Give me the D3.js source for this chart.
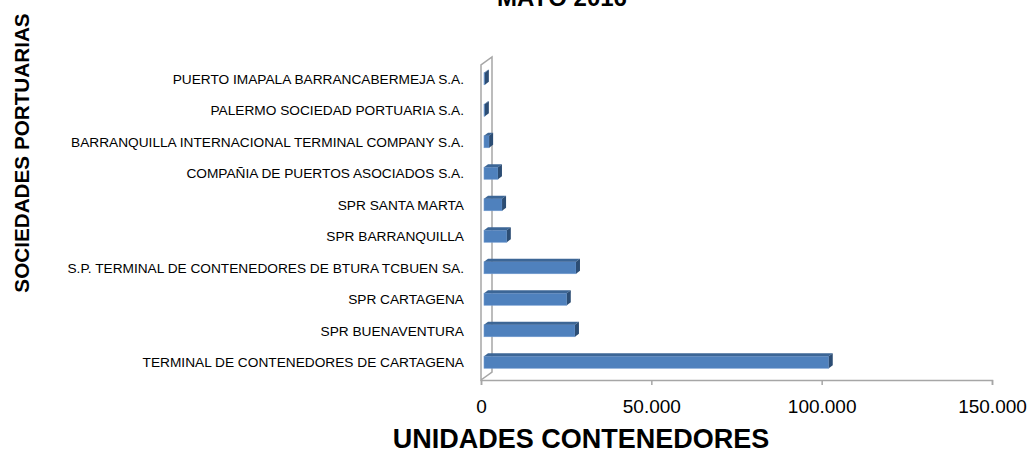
<!DOCTYPE html>
<html>
<head>
<meta charset="utf-8">
<script src="https://cdn.jsdelivr.net/npm/d3@7"></script>
<style>
  body { margin: 0; background: #fff; }
  svg { font-family: "Liberation Sans", Arial, sans-serif; }
</style>
</head>
<body>
<div id="chart"></div>
<script>
// categories listed bottom to top
const categories = [
  "TERMINAL DE CONTENEDORES DE CARTAGENA",
  "SPR BUENAVENTURA",
  "SPR CARTAGENA",
  "S.P. TERMINAL DE CONTENEDORES DE BTURA TCBUEN SA.",
  "SPR BARRANQUILLA",
  "SPR SANTA MARTA",
  "COMPAÑIA DE PUERTOS ASOCIADOS S.A.",
  "BARRANQUILLA INTERNACIONAL TERMINAL COMPANY S.A.",
  "PALERMO SOCIEDAD PORTUARIA S.A.",
  "PUERTO IMAPALA BARRANCABERMEJA S.A."
]
const values = [101200, 26700, 24300, 27000, 6700, 5300, 4100, 1500, 250, 250]
const xTicks = [0, 50000, 100000, 150000]

const W = 1031, H = 459
const svg = d3.select("#chart")
  .append("svg")
    .attr("width", W)
    .attr("height", H)

// plot frame (front plane)
const plotLeft = 481, plotRight = 992, plotBottom = 380, plotTop = 65
// depth of the 3d wall
const dx = 11, dy = -8

const x = d3.scaleLinear()
  .domain([0, 150000])
  .range([plotLeft, plotRight])

const y = d3.scaleBand()
  .domain(categories)
  .range([plotBottom, plotTop])

// side wall
svg.append("polygon")
  .attr("points", [[plotLeft, plotBottom], [plotLeft + dx, plotBottom + dy], [plotLeft + dx, plotTop + dy], [plotLeft, plotTop]].join(" "))
  .attr("fill", "#fff")
  .attr("stroke", "#a6a6a6")
  .attr("stroke-width", 1.5)

// x axis on the floor
const xAxis = svg.append("g")
  .attr("transform", `translate(0, ${plotBottom})`)
  .call(d3.axisBottom(x)
    .tickValues(xTicks)
    .tickSize(5)
    .tickPadding(15)
    .tickFormat(d => d3.format(",")(d).replace(/,/g, ".")))
xAxis.select(".domain").attr("stroke", "#a6a6a6").attr("stroke-width", 1.5)
xAxis.selectAll(".tick line").attr("stroke", "#a6a6a6").attr("stroke-width", 1.5)
xAxis.selectAll(".tick text")
  .attr("fill", "#000")
  .style("font-size", "19px")
  .style("font-family", "Liberation Sans, Arial, sans-serif")

// bars
const faceH = 12
const bx = 3, by = -2      // front face depth offset
const bdx = 4, bdy = -3    // bar depth

const bars = svg.append("g")
  .selectAll("g")
  .data(categories.map((c, i) => ({ cat: c, value: values[i] })))
  .join("g")

bars.each(function(d) {
  const g = d3.select(this)
  const cy = y(d.cat) + y.bandwidth() / 2
  const x0 = x(0) + bx, x1 = x(d.value) + bx
  const yt = cy - faceH / 2 + by, yb = cy + faceH / 2 + by
  // front
  g.append("rect")
    .attr("x", x0).attr("y", yt)
    .attr("width", Math.max(0, x1 - x0)).attr("height", faceH)
    .attr("fill", "#4f81bd")
    .attr("stroke", "#6f9ad0").attr("stroke-width", 0.6)
  // top
  g.append("polygon")
    .attr("points", [[x0, yt], [x1, yt], [x1 + bdx, yt + bdy], [x0 + bdx, yt + bdy]].join(" "))
    .attr("fill", "#3c6696")
  // side
  g.append("polygon")
    .attr("points", [[x1, yt], [x1 + bdx, yt + bdy], [x1 + bdx, yb + bdy], [x1, yb]].join(" "))
    .attr("fill", "#2c4d74")
})

// category labels
svg.append("g")
  .selectAll("text")
  .data(categories)
  .join("text")
    .attr("x", 464)
    .attr("y", d => y(d) + y.bandwidth() / 2 - 2)
    .attr("dy", "0.35em")
    .attr("text-anchor", "end")
    .style("font-size", "13.7px")
    .attr("fill", "#000")
    .text(d => d)

// title, its upper part falls outside the picture like in the source
svg.append("text")
  .attr("x", 562)
  .attr("y", 6)
  .attr("text-anchor", "middle")
  .style("font-size", "24px")
  .style("font-weight", "bold")
  .text("MAYO 2016")

// axis titles
svg.append("text")
  .attr("x", 581)
  .attr("y", 448)
  .attr("text-anchor", "middle")
  .style("font-size", "27px")
  .style("font-weight", "bold")
  .text("UNIDADES CONTENEDORES")

svg.append("text")
  .attr("transform", "translate(29, 153) rotate(-90)")
  .attr("text-anchor", "middle")
  .style("font-size", "20.7px")
  .style("font-weight", "bold")
  .text("SOCIEDADES PORTUARIAS")
</script>
</body>
</html>
